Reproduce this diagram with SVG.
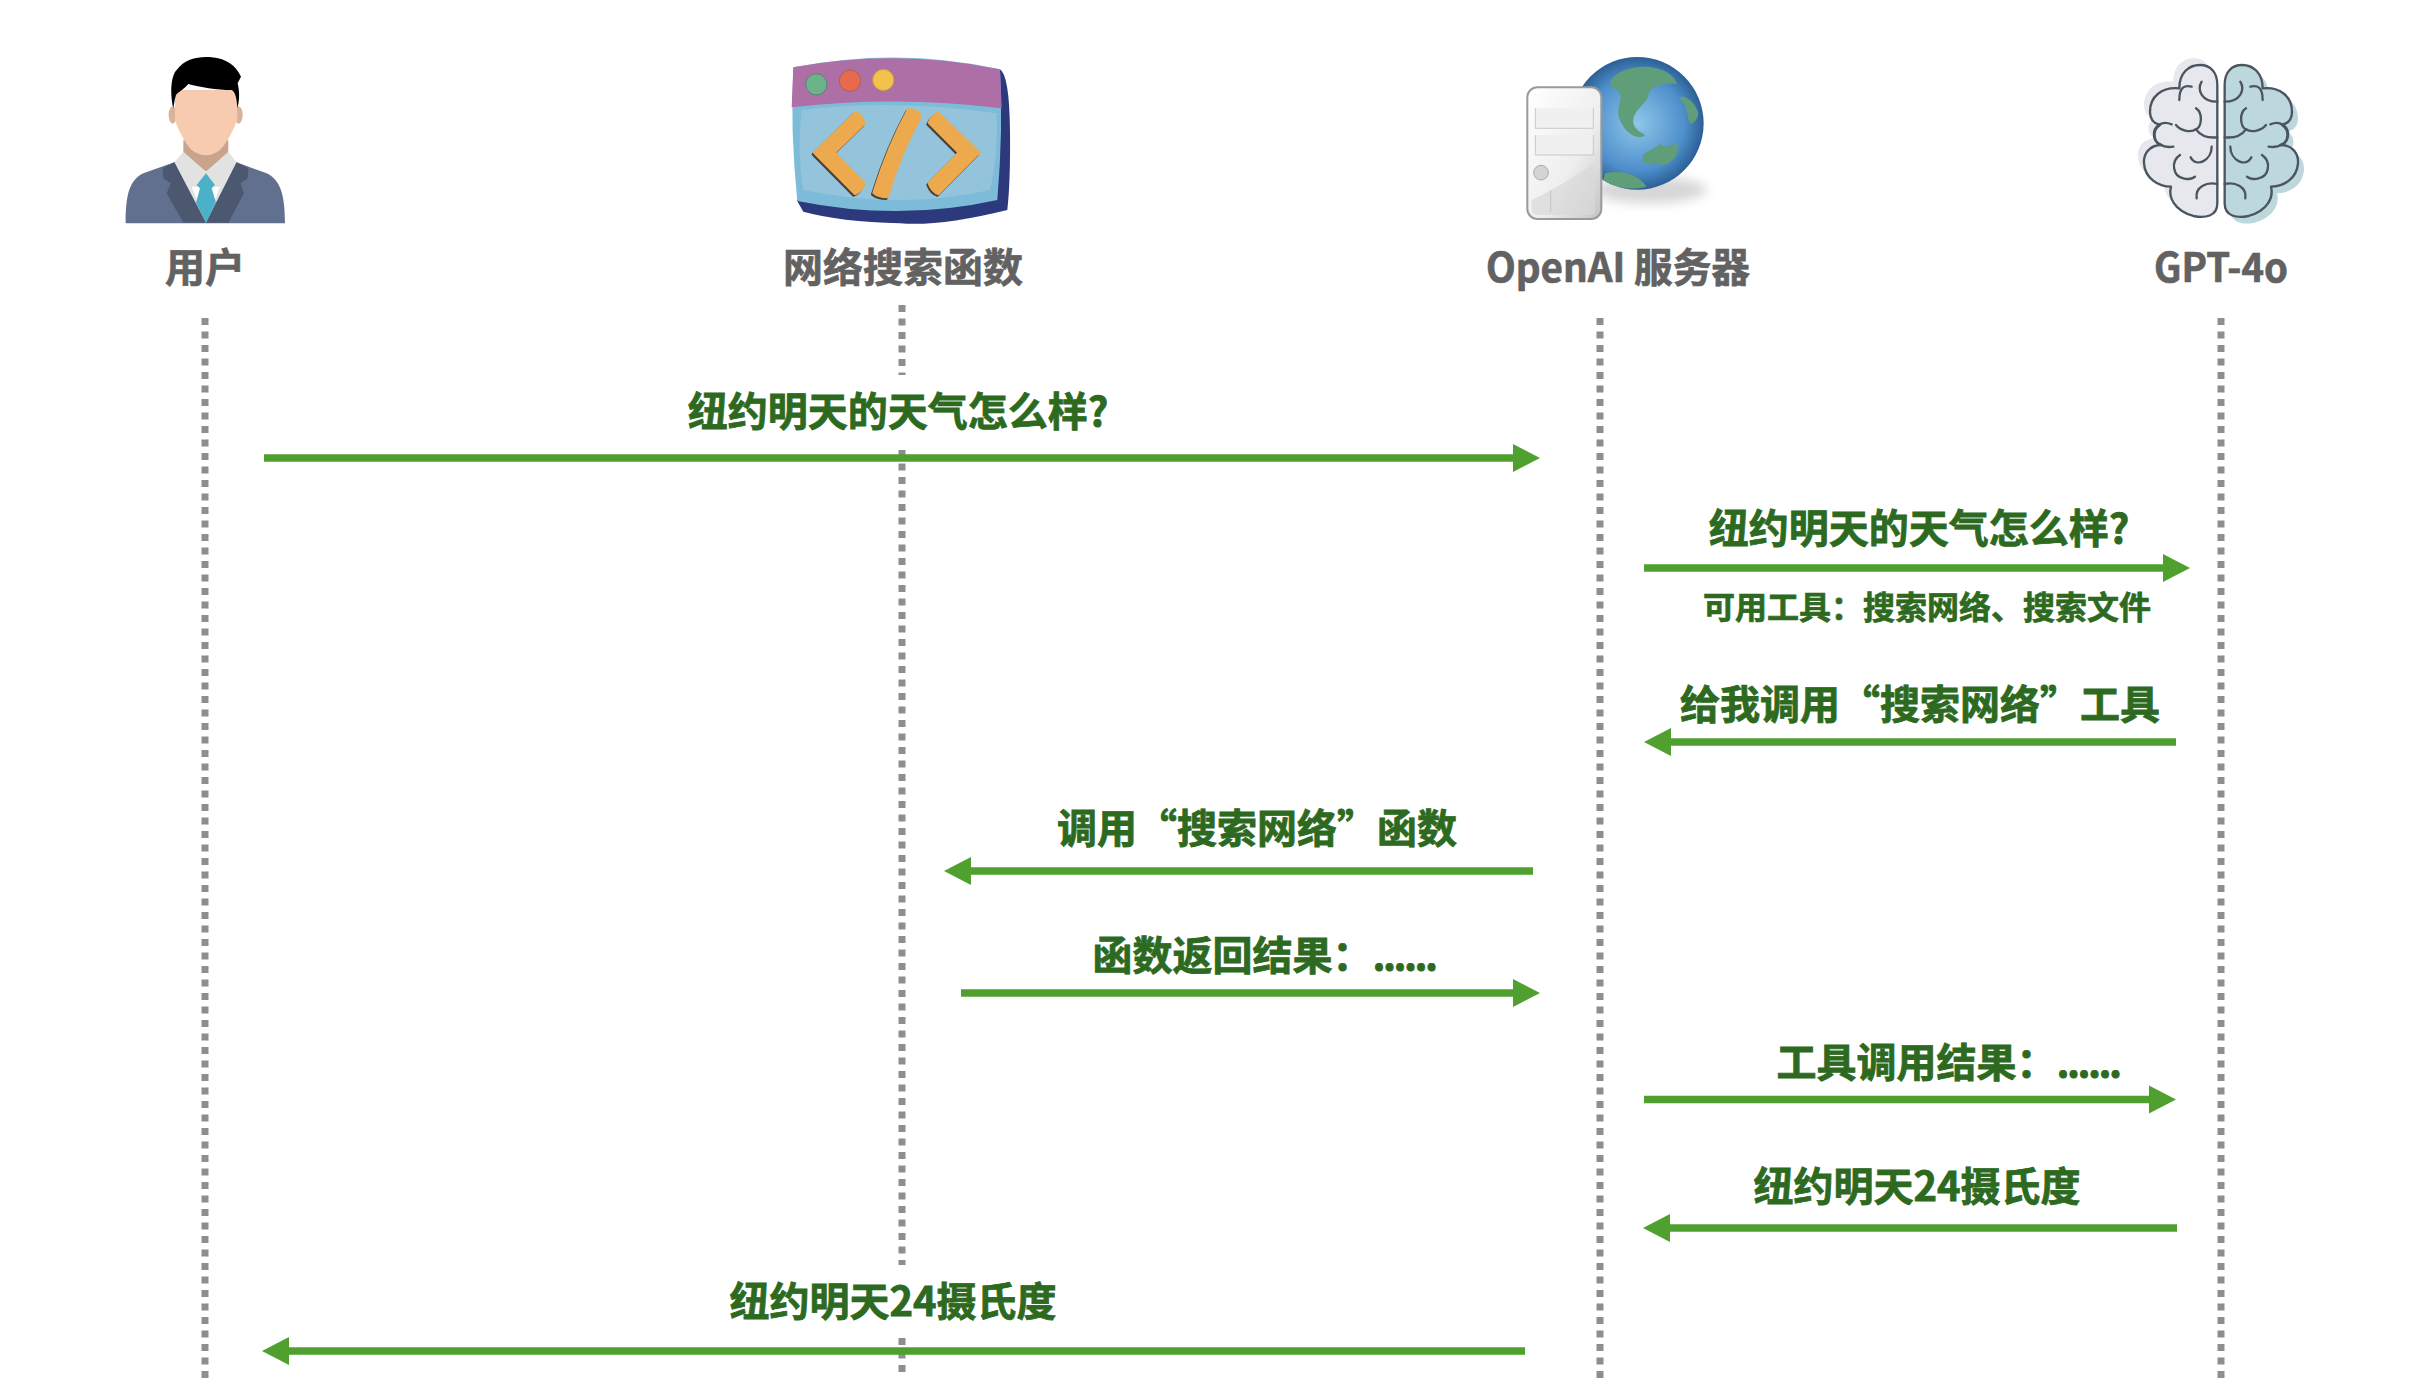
<svg xmlns="http://www.w3.org/2000/svg" xmlns:xlink="http://www.w3.org/1999/xlink" width="2418" height="1378" viewBox="0 0 2418 1378">
<style>
text{font-family:"Noto Sans CJK SC","Noto Sans",sans-serif;font-weight:700}
.h{fill:#626262;stroke:#626262;stroke-width:.7px;font-size:40px;text-anchor:middle}
.m{fill:#2d6a1f;stroke:#2d6a1f;stroke-width:.8px;font-size:40px;text-anchor:middle}
.s{fill:#2d6a1f;stroke:#2d6a1f;stroke-width:.7px;font-size:32px;text-anchor:middle}
.d{letter-spacing:-2.500px}
.life{stroke:#8e8e8e;stroke-width:7;stroke-dasharray:7 6.5;fill:none}
.arrow{stroke:#4fa02f;stroke-width:7.500;fill:none}
.head{fill:#4fa02f}
.b{fill:none;stroke:#4a5560;stroke-width:7;stroke-linecap:round;stroke-linejoin:round}
</style>
<defs>
<radialGradient id="gl" cx="0.5" cy="0.5" r="0.55"><stop offset="0" stop-color="#8fc6ea"/><stop offset="0.65" stop-color="#4e8fcb"/><stop offset="1" stop-color="#1f4f82"/></radialGradient>
<linearGradient id="sv" x1="0" y1="0" x2="1" y2="1"><stop offset="0" stop-color="#fff"/><stop offset="0.6" stop-color="#eee"/><stop offset="1" stop-color="#c4c4c4"/></linearGradient>
<filter id="blur" x="-30%" y="-30%" width="160%" height="160%"><feGaussianBlur stdDeviation="16"/></filter>
<path id="brainL" d="M382,165C382,125 360,105 330,105C295,105 268,130 268,175C215,170 180,200 180,245C180,265 190,280 210,285C185,300 190,340 215,345C175,345 160,375 162,400C165,445 205,470 243,470C235,500 250,540 310,558C345,565 382,560 382,520Z"/>
<g id="chev">
<path d="M345,250Q362,250 372,280L282,368L372,460Q362,485 345,490L224,368Z"/>
<path d="M595,250L716,368L595,490Q578,485 568,460L658,368L568,278Q578,255 595,250Z"/>
<path d="M505,240Q535,240 540,260Q475,380 442,500Q415,500 402,488Q445,350 505,240Z"/>
</g>
<g id="brainLines" class="b">
<use xlink:href="#brainL"/>
<path d="M305,170C285,165 268,170 268,210"/>
<path d="M335,155C320,180 335,215 382,215"/>
<path d="M318,235C340,250 335,290 318,298C300,310 270,300 258,285"/>
<path d="M318,298C330,315 350,325 382,322"/>
<path d="M245,283C215,270 190,290 192,315C192,340 220,355 250,350"/>
<path d="M365,350C365,390 320,415 302,382"/>
<path d="M270,375C240,395 250,440 280,445C295,450 310,445 315,440"/>
<path d="M320,505C315,470 350,455 382,462"/>
</g>
</defs>
<rect width="2418" height="1378" fill="#fff"/>

<g id="lifelines">
<path class="life" d="M205,318V1378"/>
<path class="life" d="M902,305V375"/>
<path class="life" d="M902,450V1265"/>
<path class="life" d="M902,1338V1372"/>
<path class="life" d="M1600,318V1378"/>
<path class="life" d="M2221,318V1378"/>
</g>

<g id="connectors">
<path class="arrow" d="M264,458H1515"/><path class="head" d="M1540,458L1513,444V472Z"/>
<path class="arrow" d="M1644,568H2165"/><path class="head" d="M2190,568L2163,554V582Z"/>
<path class="arrow" d="M2176,742H1669"/><path class="head" d="M1644,742L1671,728V756Z"/>
<path class="arrow" d="M1533,871H969"/><path class="head" d="M944,871L971,857V885Z"/>
<path class="arrow" d="M961,993H1515"/><path class="head" d="M1540,993L1513,979V1007Z"/>
<path class="arrow" d="M1644,1099.500H2151"/><path class="head" d="M2176,1099.500L2149,1085.500V1113.500Z"/>
<path class="arrow" d="M2177,1228H1668"/><path class="head" d="M1643,1228L1670,1214V1242Z"/>
<path class="arrow" d="M1525,1351H287"/><path class="head" d="M262,1351L289,1337V1365Z"/>
</g>

<g id="labels">
<text class="m" x="898" y="426">纽约明天的天气怎么样?</text>
<text class="m" x="1919" y="543">纽约明天的天气怎么样?</text>
<text class="s" x="1927" y="619">可用工具：搜索网络、搜索文件</text>
<text class="m" x="1920" y="719">给我调用“搜索网络”工具</text>
<text class="m" x="1257" y="843">调用“搜索网络”函数</text>
<text class="m" x="1264" y="970">函数返回结果：<tspan class="d">......</tspan></text>
<text class="m" x="1948" y="1077">工具调用结果：<tspan class="d">......</tspan></text>
<text class="m" x="1917" y="1201">纽约明天24摄氏度</text>
<text class="m" x="893" y="1316">纽约明天24摄氏度</text>
</g>

<g id="node-user">
<g transform="translate(80,30) scale(0.3333)">
<ellipse cx="278" cy="255" rx="12" ry="26" fill="#d9b29a"/><ellipse cx="476" cy="255" rx="12" ry="26" fill="#d9b29a"/>
<path d="M310,330H445V370L378,425L310,370Z" fill="#c9a48c"/>
<path d="M285,180H470L472,270C460,300 440,340 420,360Q378,392 335,360C315,340 295,300 285,270Z" fill="#f6cbb0"/>
<path d="M280,235C268,180 275,135 290,120C315,85 360,78 395,82C440,85 470,110 483,140L473,160C480,190 478,215 472,235C470,200 465,185 455,180C410,180 360,172 325,162C310,180 295,185 288,195C283,210 282,225 280,235Z" fill="#000"/>
<path d="M283,397L310,365L378,425L445,365L470,397L378,578Z" fill="#e2e2e2"/>
<path d="M335,470L378,578L420,470Z" fill="#fff"/>
<path d="M137,580C137,490 150,450 190,430L283,397L378,578L470,397L560,430C600,450 615,490 615,580Z" fill="#62708f"/>
<path d="M283,397L248,415L250,445L272,460L260,490L310,578H378Z" fill="#4c5870"/>
<path d="M470,397L505,415L503,445L482,460L492,490L445,578H378Z" fill="#4c5870"/>
<path d="M378,430L405,465L395,475L408,518L378,578L348,518L360,475L350,465Z" fill="#4cb0c8"/>
</g>
<text class="h" x="205" y="282">用户</text>
</g>

<g id="node-function">
<g transform="translate(740,30) scale(0.3333)">
<path d="M780,118Q808,135 810,300Q812,450 802,540Q600,590 480,580Q300,575 190,545L170,510Z" fill="#2c3a7d"/>
<path d="M160,112Q480,50 780,118Q790,300 772,510Q480,575 172,513Q150,300 160,112Z" fill="#7dbcd8"/>
<path d="M185,240Q470,205 770,250Q775,380 750,480Q480,540 190,480Q170,360 185,240Z" fill="#93c4dc"/>
<path d="M160,112Q470,55 780,118L785,235Q470,195 155,232Z" fill="#ae6fa7"/>
<circle cx="229" cy="163" r="32" fill="#6db38a" stroke="#5f7d78" stroke-width="3"/>
<circle cx="330" cy="152" r="32" fill="#e8694f" stroke="#a9614f" stroke-width="3"/>
<circle cx="430" cy="150" r="32" fill="#f2c24d" stroke="#b69a4e" stroke-width="3"/>
<use xlink:href="#chev" transform="translate(-4,5)" fill="#4a3f3a" stroke="#4a3f3a" stroke-width="10" stroke-linejoin="round"/>
<use xlink:href="#chev" fill="#eca94e" stroke="#eca94e" stroke-width="10" stroke-linejoin="round"/>
</g>
<text class="h" x="903" y="282">网络搜索函数</text>
</g>

<g id="node-openai">
<g transform="translate(1460,30) scale(0.3333)">
<ellipse cx="570" cy="480" rx="170" ry="40" fill="#999" opacity="0.4" filter="url(#blur)"/>
<circle cx="532" cy="280" r="199" fill="url(#gl)"/>
<g fill="#5f9e78">
<path d="M450,160C460,120 540,100 590,115C630,125 650,150 650,162C610,160 570,165 565,195C560,225 515,240 520,280C525,305 555,310 555,318C530,330 495,310 480,270C465,240 490,210 480,190C470,178 455,175 450,160Z"/>
<path d="M655,205C675,190 700,215 712,240C722,260 700,285 690,280C680,260 685,225 655,205Z"/>
<path d="M550,375C565,360 590,355 600,340C610,355 630,350 652,340C660,370 640,400 610,405C580,395 555,410 548,390Z"/>
<path d="M435,430C470,420 530,425 560,470C520,480 470,478 430,450Z"/>
</g>
<rect x="202" y="172" width="222" height="395" rx="30" fill="url(#sv)" stroke="#9a9a9a" stroke-width="6"/>
<path d="M226,235V295H400V235" fill="#f0f0f0" stroke="#b5b5b5" stroke-width="2"/>
<path d="M226,315V375H400V315" fill="#f0f0f0" stroke="#b5b5b5" stroke-width="2"/>
<circle cx="243" cy="428" r="22" fill="#d4d4d4" stroke="#aaa" stroke-width="3"/>
<path d="M215,510C300,470 340,440 405,400V540Q405,555 390,555H235Q215,555 215,540Z" fill="#d8d8d8" opacity="0.7"/>
<path d="M272,480V545" stroke="#b5b5b5" stroke-width="2"/>
</g>
<text class="h" x="1618" y="282" textLength="264" lengthAdjust="spacingAndGlyphs">OpenAI 服务器</text>
</g>

<g id="node-gpt">
<g transform="translate(2090,30) scale(0.3333)">
<use xlink:href="#brainL" fill="#e6e8ee" transform="translate(-18,-20)"/>
<use xlink:href="#brainL" fill="#e6e8ee"/>
<g transform="translate(786,0) scale(-1,1)">
<use xlink:href="#brainL" fill="#bcd8dc" transform="translate(-18,20)"/>
<use xlink:href="#brainL" fill="#bcd8dc"/>
</g>
<use xlink:href="#brainLines"/>
<g transform="translate(786,0) scale(-1,1)"><use xlink:href="#brainLines"/></g>
</g>
<text class="h" x="2221" y="282" textLength="134" lengthAdjust="spacingAndGlyphs">GPT-4o</text>
</g>
</svg>
